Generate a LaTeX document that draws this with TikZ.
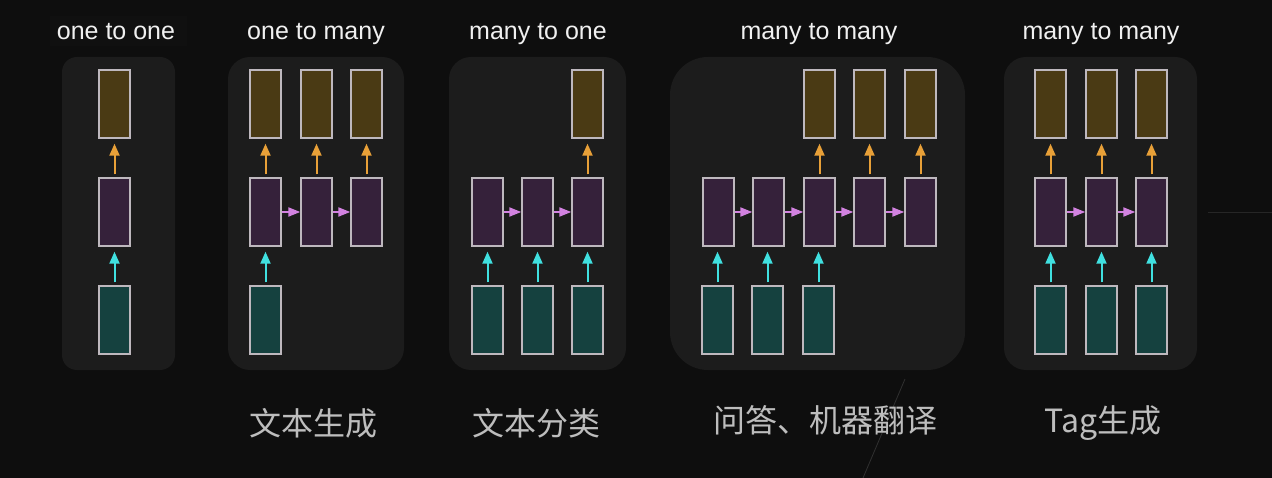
\documentclass[tikz,border=0pt]{standalone}
\usepackage{fontspec}
\setmainfont{Liberation Sans}
\newfontfamily\cjk{Noto Sans CJK SC}
\usetikzlibrary{arrows.meta}
\definecolor{bgc}{HTML}{0E0E0E}
\definecolor{panelc}{HTML}{1C1C1C}
\definecolor{titlebg}{HTML}{101010}
\definecolor{outfill}{HTML}{4A3A14}
\definecolor{hidfill}{HTML}{35213A}
\definecolor{infill}{HTML}{15413F}
\definecolor{boxline}{HTML}{BEB8BE}
\definecolor{oarr}{HTML}{E8A038}
\definecolor{parr}{HTML}{D282E0}
\definecolor{carr}{HTML}{40E0E0}
\definecolor{titlec}{HTML}{F0F0F0}
\definecolor{labc}{HTML}{BDBDBD}
\tikzset{
  panel/.style={fill=panelc, draw=none},
  cellbox/.style={draw=boxline, line width=1.4pt, minimum width=31pt, minimum height=68pt, inner sep=0pt},
  outbox/.style={cellbox, fill=outfill},
  hidbox/.style={cellbox, fill=hidfill},
  inbox/.style={cellbox, fill=infill},
  oarrow/.style={draw=oarr, line width=2pt, -{Triangle[length=12pt,width=10pt]}, shorten <=3pt, shorten >=5pt},
  carrow/.style={draw=carr, line width=2pt, -{Triangle[length=12pt,width=10pt]}, shorten <=3pt, shorten >=5pt},
  parrow/.style={draw=parr, line width=2pt, -{Triangle[length=12pt,width=9pt]}},
  title/.style={text=titlec, font=\fontsize{25}{30}\selectfont, anchor=base, inner sep=0pt},
  cnlabel/.style={text=labc, font=\cjk\fontsize{32}{38}\selectfont, inner sep=0pt}
}
\begin{document}
\begin{tikzpicture}[x=1pt,y=-1pt]
\fill[bgc] (0,0) rectangle (1272,478);
\useasboundingbox (0,0) rectangle (1272,478);
% faint artifacts
\draw[draw=white!10!bgc, line width=1pt] (1208,213) -- (1272,213);
\draw[draw=white!14!bgc, line width=0.8pt] (905,379) -- (863,478);
% title backgrounds
\fill[titlebg] (50,16) rectangle (187,46);
% panels
\fill[panel, rounded corners=15pt] (62,57) rectangle (175,370);
\fill[panel, rounded corners=22pt] (228,57) rectangle (404,370);
\fill[panel, rounded corners=22pt] (449,57) rectangle (626,370);
\fill[panel, rounded corners=38pt] (670,57) rectangle (965,370);
\fill[panel, rounded corners=22pt] (1004,57) rectangle (1197,370);
% titles
\node[title] (t1) at (116,40) {one to one};
\node[title] (t2) at (316,40) {one to many};
\node[title] (t3) at (538,40) {many to one};
\node[title] (t4) at (819,40) {many to many};
\node[title] (t5) at (1101,40) {many to many};
% panel 1
\node[outbox] (a1o) at (114.5,104) {};
\node[hidbox] (a1h) at (114.5,212) {};
\node[inbox]  (a1i) at (114.5,320) {};
\draw[oarrow] (a1h.north) -- (a1o.south);
\draw[carrow] (a1i.north) -- (a1h.south);
% panel 2
\foreach \n/\x in {1/265.5,2/316.5,3/366.5}{
  \node[outbox] (b\n o) at (\x,104) {};
  \node[hidbox] (b\n h) at (\x,212) {};
  \draw[oarrow] (b\n h.north) -- (b\n o.south);
}
\node[inbox] (b1i) at (265.5,320) {};
\draw[carrow] (b1i.north) -- (b1h.south);
\draw[parrow] (b1h.east) -- (b2h.west);
\draw[parrow] (b2h.east) -- (b3h.west);
% panel 3
\foreach \n/\x in {1/487.5,2/537.5,3/587.5}{
  \node[hidbox] (c\n h) at (\x,212) {};
  \node[inbox] (c\n i) at (\x,320) {};
  \draw[carrow] (c\n i.north) -- (c\n h.south);
}
\node[outbox] (c3o) at (587.5,104) {};
\draw[oarrow] (c3h.north) -- (c3o.south);
\draw[parrow] (c1h.east) -- (c2h.west);
\draw[parrow] (c2h.east) -- (c3h.west);
% panel 4
\foreach \n/\x in {1/718.5,2/768.5,3/819.5,4/869.5,5/920.5}{
  \node[hidbox] (d\n h) at (\x,212) {};
}
\foreach \n/\x in {1/717.5,2/767.5,3/818.5}{
  \node[inbox] (d\n i) at (\x,320) {};
  \draw[carrow] (d\n i.north) -- (d\n i.north |- d\n h.south);
}
\foreach \n in {3,4,5}{
  \node[outbox] (d\n o) at (d\n h |- 0,104) {};
  \draw[oarrow] (d\n h.north) -- (d\n o.south);
}
\draw[parrow] (d1h.east) -- (d2h.west);
\draw[parrow] (d2h.east) -- (d3h.west);
\draw[parrow] (d3h.east) -- (d4h.west);
\draw[parrow] (d4h.east) -- (d5h.west);
% panel 5
\foreach \n/\x in {1/1050.5,2/1101.5,3/1151.5}{
  \node[outbox] (e\n o) at (\x,104) {};
  \node[hidbox] (e\n h) at (\x,212) {};
  \node[inbox] (e\n i) at (\x,320) {};
  \draw[oarrow] (e\n h.north) -- (e\n o.south);
  \draw[carrow] (e\n i.north) -- (e\n h.south);
}
\draw[parrow] (e1h.east) -- (e2h.west);
\draw[parrow] (e2h.east) -- (e3h.west);
% labels
\node[cnlabel] (l2) at (313,423) {文本生成};
\node[cnlabel] (l3) at (536,423) {文本分类};
\node[cnlabel] (l4) at (825,420) {问答、机器翻译};
\node[cnlabel] (l5) at (1103,423) {Tag生成};
\end{tikzpicture}
\end{document}
